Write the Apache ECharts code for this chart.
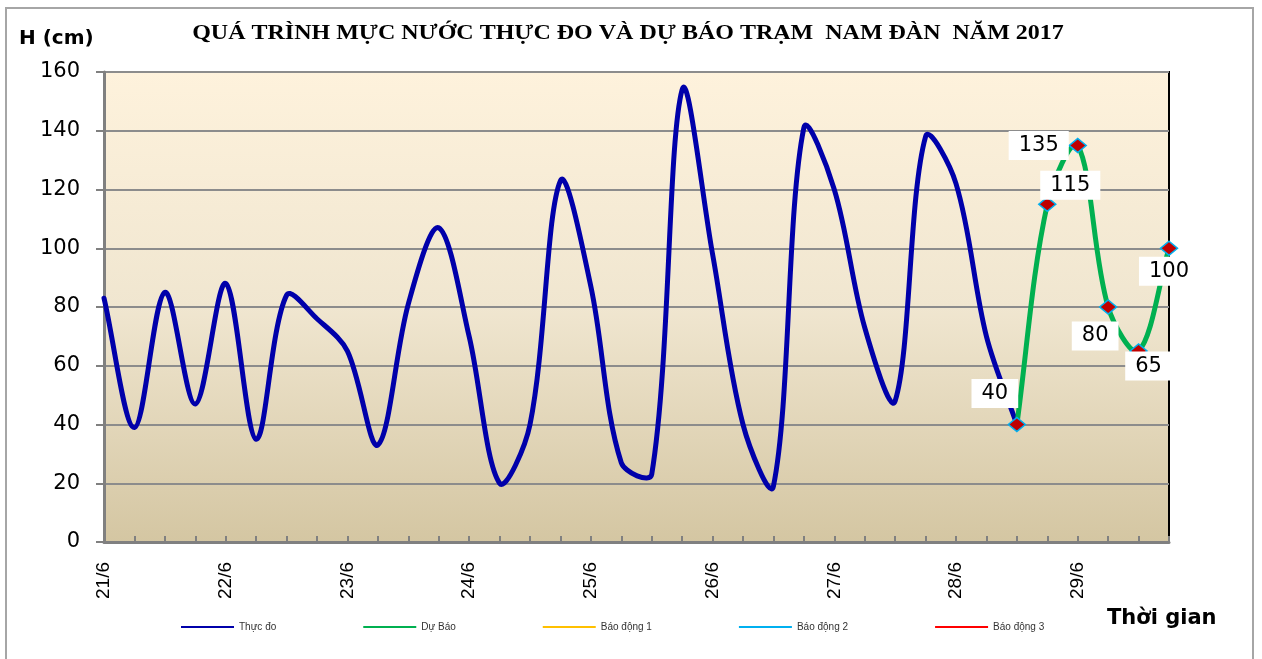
<!DOCTYPE html>
<html>
<head>
<meta charset="utf-8">
<script src="https://cdn.jsdelivr.net/npm/echarts@6/dist/echarts.min.js"></script>
<style>
html,body{margin:0;padding:0;background:#fff;}
#c{width:1262px;height:659px;}
</style>
</head>
<body>
<div id="c"></div>
<script>
// ---- data ----
const days = ['21/6','22/6','23/6','24/6','25/6','26/6','27/6','28/6','29/6'];
const slotsPerDay = 4;
const measured = [83,39,85,47,88,35,84,76,65,33,81,107,70,20,40,123,87,27,23,154,98,40,19,141,120,73,48,138,122,70,40];
const forecast = [40,115,135,80,65,100];
const forecastStart = 30;
const yTicks = {min:0, max:160, interval:20};
const seriesNames = ['Thực đo','Dự Báo','Báo động 1','Báo động 2','Báo động 3'];
const seriesColors = ['#0000AA','#00B050','#FFC000','#00B0F0','#FF0000'];
const titleText = 'QUÁ TRÌNH MỰC NƯỚC THỰC ĐO VÀ DỰ BÁO TRẠM  NAM ĐÀN  NĂM 2017';

// ---- layout (not data) ----
const labelOffsets = [[-22,-31],[23,-19],[-39,0],[-13,29],[10,15],[0,23]];

const categories = [];
days.forEach(d => { for (let s = 0; s < slotsPerDay; s++) categories.push(d + '|' + s); });

const measuredPts = measured.map((v, i) => [i, v]);
const forecastPts = forecast.map((v, k) => [forecastStart + k, v]);
const forecastData = [];
for (let i = 0; i < categories.length; i++) {
  const k = i - forecastStart;
  if (k >= 0 && k < forecast.length) {
    forecastData.push({value: forecast[k], label: {offset: labelOffsets[k]}});
  } else forecastData.push(null);
}

// spreadsheet-style smoothed curve (chord-weighted bezier) drawn through the axes' coordinates
function smoothPath(api, pts) {
  const P = pts.map(p => api.coord(p));
  const s = 1 / 3, n = P.length, cin = [], cout = [];
  for (let i = 0; i < n; i++) {
    const p = P[i], prev = P[i - 1] || p, next = P[i + 1] || p;
    const vx = next[0] - prev[0], vy = next[1] - prev[1];
    const d0 = Math.hypot(p[0] - prev[0], p[1] - prev[1]);
    const d1 = Math.hypot(next[0] - p[0], next[1] - p[1]);
    const sum = (d0 + d1) || 1;
    cin[i] = [p[0] - vx * s * d0 / sum, p[1] - vy * s * d0 / sum];
    cout[i] = [p[0] + vx * s * d1 / sum, p[1] + vy * s * d1 / sum];
  }
  let d = 'M' + P[0][0] + ' ' + P[0][1];
  for (let i = 0; i < n - 1; i++) {
    d += ' C' + cout[i][0] + ' ' + cout[i][1] + ' ' + cin[i + 1][0] + ' ' + cin[i + 1][1] + ' ' + P[i + 1][0] + ' ' + P[i + 1][1];
  }
  return d;
}
function curveSeries(name, pts, color, z) {
  return {
    name: name, type: 'custom', data: pts, z: z, silent: true,
    itemStyle: {color: color},
    renderItem: function (params, api) {
      if (params.dataIndex !== 0) return null;
      return {
        type: 'path',
        shape: {pathData: smoothPath(api, pts)},
        style: {fill: 'none', stroke: color, lineWidth: 5, lineJoin: 'round', lineCap: 'round'}
      };
    }
  };
}

const chart = echarts.init(document.getElementById('c'));
const sansNum = 'DejaVu Sans';
chart.setOption({
  animation: false,
  backgroundColor: '#fff',
  grid: {
    left: 104, right: 93, top: 72, bottom: 117,
    show: true, borderColor: '#000', borderWidth: 2,
    backgroundColor: new echarts.graphic.LinearGradient(0,0,0,1,[
      {offset:0, color:'#FEF2DC'}, {offset:0.5, color:'#F0E6D0'}, {offset:1, color:'#D4C6A2'}
    ])
  },
  legend: {
    data: seriesNames.map((n, i) => ({name: n, icon: 'rect', itemStyle: {color: seriesColors[i], borderWidth: 0}})),
    left: 181, top: 622, padding: 0, itemWidth: 53, itemHeight: 2,
    itemGap: 87,
    textStyle: {fontSize: 10, color: '#333', fontFamily: 'Liberation Sans'}
  },
  xAxis: {
    type: 'category', data: categories, boundaryGap: false,
    axisLine: {lineStyle: {color: '#808080', width: 3}},
    axisTick: {inside: true, length: 6, interval: 0, lineStyle: {color: '#808080', width: 2}},
    axisLabel: {
      interval: slotsPerDay - 1, rotate: 90, margin: 20, color: '#000',
      fontSize: 19, fontFamily: 'Liberation Sans',
      formatter: v => v.split('|')[0]
    },
    splitLine: {show: false}
  },
  yAxis: {
    type: 'value', min: yTicks.min, max: yTicks.max, interval: yTicks.interval,
    axisLine: {show: true, lineStyle: {color: '#808080', width: 3}},
    axisTick: {show: true, length: 8, lineStyle: {color: '#808080', width: 2}},
    axisLabel: {color: '#000', fontSize: 21, fontFamily: sansNum, margin: 24},
    splitLine: {lineStyle: {color: '#8C8C8C', width: 2}}
  },
  series: [
    curveSeries(seriesNames[0], measuredPts, seriesColors[0], 2),
    curveSeries(seriesNames[1], forecastPts, seriesColors[1], 3),
    {
      name: seriesNames[1], type: 'line', data: forecastData,
      symbol: 'diamond', symbolSize: [17, 14], showAllSymbol: true,
      lineStyle: {color: seriesColors[1], width: 5, opacity: 0},
      itemStyle: {color: '#C00000', borderColor: '#00B0F0', borderWidth: 1.5},
      label: {
        show: true, position: 'inside', color: '#000', fontSize: 21, fontFamily: sansNum,
        backgroundColor: '#fff', padding: [4, 10], formatter: '{c}'
      },
      z: 4
    },
    {name: seriesNames[2], type: 'line', data: [], lineStyle: {color: seriesColors[2], width: 2}, itemStyle: {color: seriesColors[2]}},
    {name: seriesNames[3], type: 'line', data: [], lineStyle: {color: seriesColors[3], width: 2}, itemStyle: {color: seriesColors[3]}},
    {name: seriesNames[4], type: 'line', data: [], lineStyle: {color: seriesColors[4], width: 2}, itemStyle: {color: seriesColors[4]}}
  ],
  graphic: [
    {type: 'rect', shape: {x: 6, y: 8, width: 1247, height: 700}, style: {fill: 'none', stroke: '#A6A6A6', lineWidth: 2}, silent: true},
    {type: 'text', x: 628, y: 34, scaleX: 1.2, scaleY: 1,
      style: {text: titleText, font: 'bold 20px "Liberation Serif"', fill: '#000', align: 'center', verticalAlign: 'middle'}},
    {type: 'text', left: 19, top: 29, style: {text: 'H (cm)', font: 'bold 20px "DejaVu Sans"', fill: '#000'}},
    {type: 'text', left: 1107, top: 608, style: {text: 'Thời gian', font: 'bold 21px "DejaVu Sans"', fill: '#000'}}
  ]
});
</script>
</body>
</html>
